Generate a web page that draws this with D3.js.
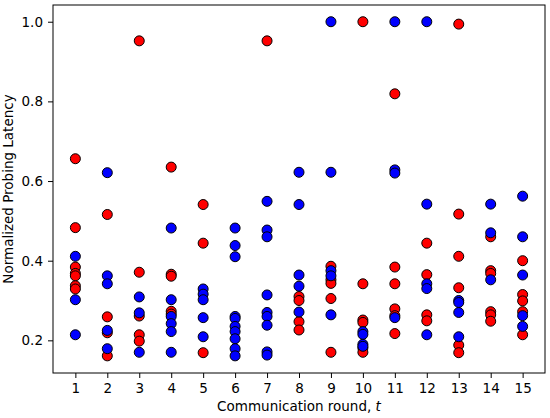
<!DOCTYPE html>
<html>
<head>
<meta charset="utf-8">
<script src="https://cdnjs.cloudflare.com/ajax/libs/d3/7.8.5/d3.min.js"></script>
<style>
body { margin: 0; background: #fff; }
svg { font-family: "DejaVu Sans", sans-serif; }
</style>
</head>
<body>
<svg width="550" height="418"></svg>
<script>
// rounds on x axis
var rounds = [1,2,3,4,5,6,7,8,9,10,11,12,13,14,15];

// red points, one list per round
var redValues = [
  [0.656, 0.483, 0.384, 0.368, 0.362, 0.337, 0.329],
  [0.516, 0.259, 0.219, 0.161],
  [0.952, 0.371, 0.261, 0.214, 0.198],
  [0.635, 0.366, 0.361, 0.273, 0.266],
  [0.541, 0.444, 0.169],
  [],
  [0.952],
  [0.310, 0.300, 0.247, 0.226],
  [0.386, 0.352, 0.343, 0.305, 0.170],
  [1.0, 0.342, 0.251, 0.245, 0.181, 0.170],
  [0.819, 0.384, 0.342, 0.279, 0.262, 0.217],
  [0.444, 0.365, 0.264, 0.249],
  [0.994, 0.517, 0.411, 0.332, 0.188, 0.169],
  [0.460, 0.375, 0.368, 0.272, 0.264, 0.248],
  [0.400, 0.315, 0.299, 0.272, 0.214]
];

// blue points, one list per round
var blueValues = [
  [0.411, 0.302, 0.214],
  [0.621, 0.362, 0.342, 0.225, 0.179],
  [0.309, 0.269, 0.170],
  [0.482, 0.302, 0.260, 0.242, 0.222, 0.170],
  [0.329, 0.316, 0.302, 0.257, 0.209],
  [0.482, 0.438, 0.410, 0.260, 0.255, 0.235, 0.222, 0.204, 0.179, 0.161],
  [0.549, 0.477, 0.460, 0.314, 0.270, 0.260, 0.238, 0.171, 0.163],
  [0.622, 0.541, 0.364, 0.336, 0.271],
  [1.0, 0.622, 0.375, 0.362, 0.264],
  [0.222, 0.215, 0.190, 0.185],
  [1.0, 0.628, 0.620, 0.257],
  [1.0, 0.542, 0.342, 0.330, 0.214],
  [0.300, 0.295, 0.270, 0.209],
  [0.542, 0.470, 0.352],
  [0.562, 0.460, 0.364, 0.262, 0.235]
];

var yTicks = [0.2, 0.4, 0.6, 0.8, 1.0];

var svg = d3.select("svg");
var margin = {left: 53, right: 5, top: 5, bottom: 45};
var width = 550 - margin.left - margin.right,
    height = 418 - margin.top - margin.bottom;

var x = d3.scaleLinear().domain([0.3, 15.7]).range([0, width]);
var y = d3.scaleLinear().domain([0.118, 1.042]).range([height, 0]);

var g = svg.append("g").attr("transform", "translate(" + margin.left + "," + margin.top + ")");

function flatten(values) {
  var out = [];
  values.forEach(function(list, i) {
    list.forEach(function(v) { out.push({round: rounds[i], value: v}); });
  });
  return out;
}

var series = [
  {color: "#ff0000", points: flatten(redValues)},
  {color: "#0000ff", points: flatten(blueValues)}
];

series.forEach(function(s) {
  g.append("g").selectAll("circle")
    .data(s.points)
    .enter().append("circle")
      .attr("cx", function(d) { return x(d.round); })
      .attr("cy", function(d) { return y(d.value); })
      .attr("r", 5)
      .attr("fill", s.color)
      .attr("stroke", "#000")
      .attr("stroke-width", 1);
});

var xAxis = g.append("g")
    .attr("transform", "translate(0," + height + ")")
    .call(d3.axisBottom(x).tickValues(rounds).tickSize(5).tickPadding(5).tickFormat(d3.format("d")));
var yAxis = g.append("g")
    .call(d3.axisLeft(y).tickValues(yTicks).tickSize(5).tickPadding(5).tickFormat(d3.format(".1f")));

[xAxis, yAxis].forEach(function(a) {
  a.selectAll("text").attr("font-size", 13.5).attr("fill", "#000").attr("font-family", "DejaVu Sans");
  a.selectAll(".tick line").attr("stroke", "#000");
  a.select(".domain").remove();
});

g.append("rect")
  .attr("width", width).attr("height", height)
  .attr("fill", "none").attr("stroke", "#000").attr("stroke-width", 1);

var xl = svg.append("text")
  .attr("x", margin.left + width / 2)
  .attr("y", 411)
  .attr("text-anchor", "middle")
  .attr("font-size", 13.5);
xl.append("tspan").text("Communication round, ");
xl.append("tspan").attr("font-style", "italic").text("t");

svg.append("text")
  .attr("transform", "translate(12.5," + (margin.top + height / 2) + ") rotate(-90)")
  .attr("text-anchor", "middle")
  .attr("font-size", 13.5)
  .text("Normalized Probing Latency");
</script>
</body>
</html>
